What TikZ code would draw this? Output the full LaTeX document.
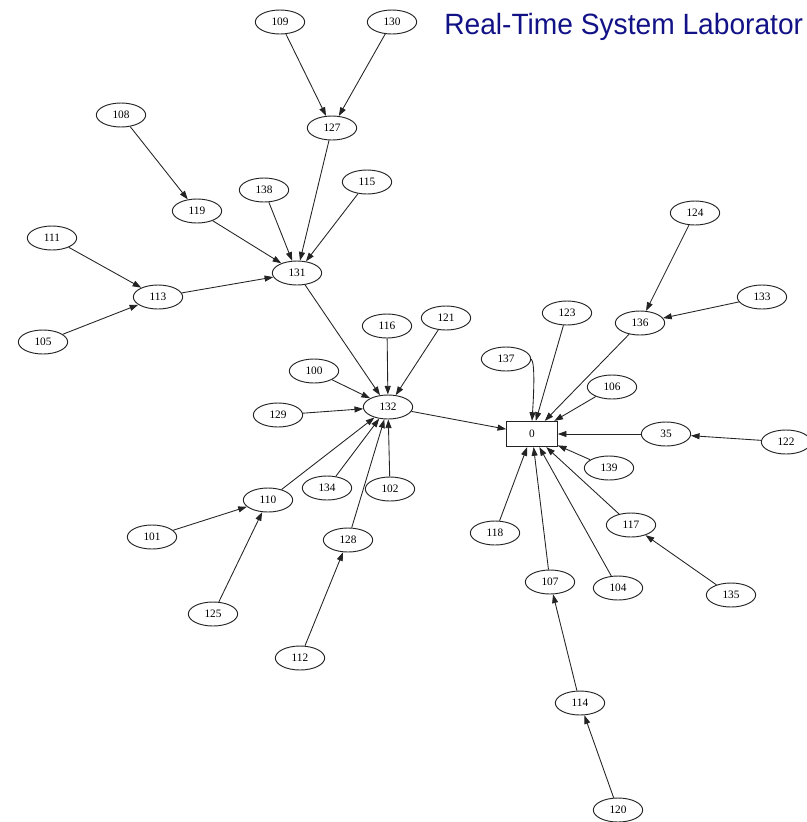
\documentclass[tikz,border=0pt]{standalone}
\usepackage{fontspec}
\setmainfont{Liberation Serif}
\newfontfamily\labfont{Liberation Sans}
\usetikzlibrary{arrows.meta,shapes.geometric}
\definecolor{labblue}{RGB}{18,18,135}
\definecolor{edgegray}{RGB}{35,35,35}

\begin{document}
\begin{tikzpicture}[x=0.75pt,y=-0.75pt,
  vert/.style={ellipse,draw=edgegray,line width=0.7pt,minimum width=37pt,
    minimum height=18pt,inner sep=0pt,font=\fontsize{8.5}{10}\selectfont},
  rootbox/.style={rectangle,draw=edgegray,line width=0.7pt,minimum width=38pt,
    minimum height=19pt,inner sep=0pt,font=\fontsize{8.5}{10}\selectfont},
  link/.style={draw=edgegray,line width=0.65pt,-{Triangle[length=6.5pt,width=4.5pt]}}]
\useasboundingbox (0,0) rectangle (807,822);

% heading
\node[anchor=base west,text=labblue,inner sep=0pt,
      font=\labfont\fontsize{22}{26}\selectfont] (title) at (444,34)
      {\scalebox{0.96}[1]{Real-Time System Laborator}};

% root
\node[rootbox] (n0) at (532,434) {0};

% vertices
\node[vert] (n109) at (280,22) {109};
\node[vert] (n130) at (392,22) {130};
\node[vert] (n127) at (332,128) {127};
\node[vert] (n108) at (121,115) {108};
\node[vert] (n119) at (197,211) {119};
\node[vert] (n138) at (264,190) {138};
\node[vert] (n115) at (367,182) {115};
\node[vert] (n111) at (52,238) {111};
\node[vert] (n113) at (158,297) {113};
\node[vert] (n105) at (43,342) {105};
\node[vert] (n131) at (297,273) {131};
\node[vert] (n116) at (387,326) {116};
\node[vert] (n121) at (446,318) {121};
\node[vert] (n100) at (314,371) {100};
\node[vert] (n132) at (388,407) {132};
\node[vert] (n129) at (278,415) {129};
\node[vert] (n110) at (268,500) {110};
\node[vert] (n134) at (327,488) {134};
\node[vert] (n102) at (390,489) {102};
\node[vert] (n101) at (152,537) {101};
\node[vert] (n128) at (348,540) {128};
\node[vert] (n125) at (213,614) {125};
\node[vert] (n112) at (300,658) {112};
\node[vert] (n123) at (567,313) {123};
\node[vert] (n137) at (506,359) {137};
\node[vert] (n136) at (640,323) {136};
\node[vert] (n124) at (695,213) {124};
\node[vert] (n133) at (762,297) {133};
\node[vert] (n106) at (612,387) {106};
\node[vert] (n35)  at (666,434) {35};
\node[vert] (n122) at (786,442) {122};
\node[vert] (n139) at (609,468) {139};
\node[vert] (n118) at (495,533) {118};
\node[vert] (n117) at (631,525) {117};
\node[vert] (n107) at (550,582) {107};
\node[vert] (n104) at (618,588) {104};
\node[vert] (n135) at (731,595) {135};
\node[vert] (n114) at (580,703) {114};
\node[vert] (n120) at (618,810) {120};

% upper-left subtree
\draw[link] (n109) -- (n127);
\draw[link] (n130) -- (n127);
\draw[link] (n127) -- (n131);
\draw[link] (n108) -- (n119);
\draw[link] (n119) -- (n131);
\draw[link] (n138) -- (n131);
\draw[link] (n115) -- (n131);
\draw[link] (n111) -- (n113);
\draw[link] (n105) -- (n113);
\draw[link] (n113) -- (n131);
\draw[link] (n131) -- (n132);

% around 132
\draw[link] (n116) -- (n132);
\draw[link] (n121) -- (n132);
\draw[link] (n100) -- (n132);
\draw[link] (n129) -- (n132);
\draw[link] (n110) -- (n132);
\draw[link] (n134) -- (n132);
\draw[link] (n102) -- (n132);
\draw[link] (n128) -- (n132);
\draw[link] (n101) -- (n110);
\draw[link] (n125) -- (n110);
\draw[link] (n112) -- (n128);
\draw[link] (n132) -- (n0);

% around the root
\draw[link] (n123) -- (n0);
\draw[link] (n137.east) .. controls (535,362) and (534,390) .. (n0.north);
\draw[link] (n136) -- (n0);
\draw[link] (n124) -- (n136);
\draw[link] (n133) -- (n136);
\draw[link] (n106) -- (n0);
\draw[link] (n35) -- (n0);
\draw[link] (n122) -- (n35);
\draw[link] (n139) -- (n0);
\draw[link] (n118) -- (n0);
\draw[link] (n117) -- (n0);
\draw[link] (n135) -- (n117);
\draw[link] (n107) -- (n0);
\draw[link] (n104) -- (n0);
\draw[link] (n114) -- (n107);
\draw[link] (n120) -- (n114);
\end{tikzpicture}
\end{document}
